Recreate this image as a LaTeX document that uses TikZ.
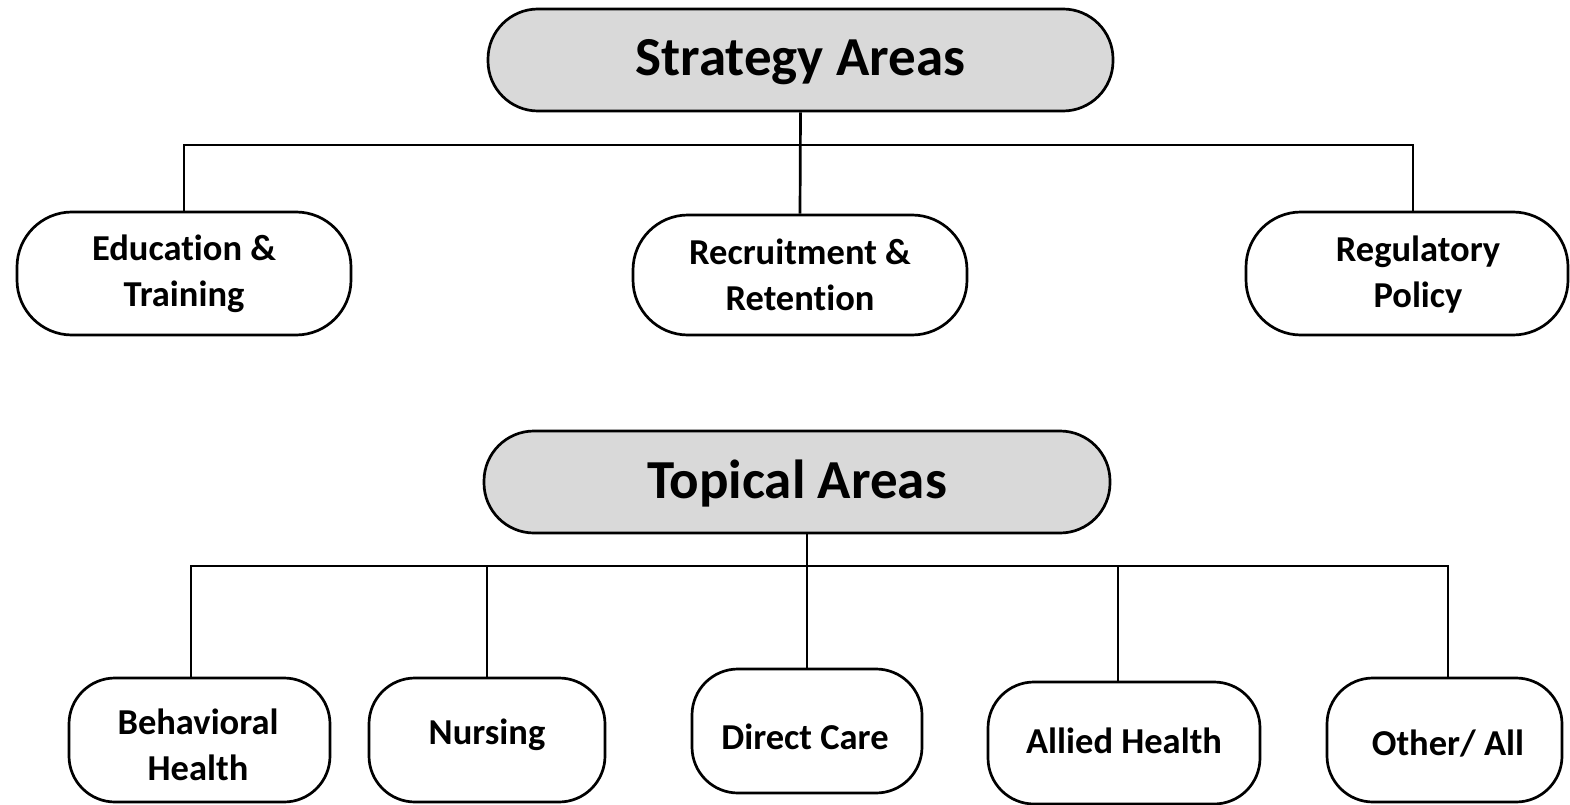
\documentclass[tikz,border=0pt]{standalone}
\usepackage{fontspec}
\setmainfont{Carlito}[Ligatures=NoCommon]
\begin{document}
\begin{tikzpicture}[x=1pt,y=-1pt,
  box/.style={draw=black,line width=2.7pt,rounded corners=#1,inner sep=0pt},
  head/.style={box=50pt,fill=headgray},
  htxt/.style={font=\fontsize{55}{60}\selectfont\bfseries,inner sep=0pt},
  lbl/.style={font=\fontsize{36.5}{46}\selectfont\bfseries,align=center,inner sep=0pt},
  conn/.style={line width=2.7pt}]
\definecolor{headgray}{RGB}{217,217,217}
\useasboundingbox[fill=white] (0,0) rectangle (1570,805);
% Strategy
\node[head,minimum width=625pt,minimum height=102pt] (strat) at (800.5,60) {};
\node[htxt] (strattxt) at (800.5,62) {Strategy Areas};
\node[box=55pt,minimum width=334pt,minimum height=123pt] (edu) at (184,273.5) {};
\node[box=55pt,minimum width=334pt,minimum height=120pt] (rec) at (800,275) {};
\node[box=55pt,minimum width=322pt,minimum height=123pt] (reg) at (1407,273.5) {};
\node[lbl] (edutxt) at (184,274) {Education \&\\Training};
\node[lbl] (rectxt) at (800,275) {Recruitment \&\\Retention};
\node[lbl] (regtxt) at (1418,275) {Regulatory\\Policy};
\coordinate (sj) at (801,145);
\coordinate (regtop) at ([xshift=6pt]reg.north);
\draw[conn] (strat.south) -- (rec.north);
\draw[conn] (edu.north) |- (sj) -| (regtop);
% Topical
\node[head,minimum width=626pt,minimum height=102pt] (top) at (797,482) {};
\node[htxt] (toptxt) at (797,484) {Topical Areas};
\node[box=46pt,minimum width=261pt,minimum height=124pt] (beh) at (199.5,740) {};
\node[box=46pt,minimum width=236pt,minimum height=124pt] (nur) at (487,740) {};
\node[box=46pt,minimum width=230pt,minimum height=124pt] (dir) at (807,731) {};
\node[box=46pt,minimum width=272pt,minimum height=122pt] (all) at (1124,743) {};
\node[box=46pt,minimum width=235pt,minimum height=124pt] (oth) at (1444.5,740) {};
\node[lbl] (behtxt) at (198,745) {Behavioral\\Health};
\node[lbl] (nurtxt) at (487,735) {Nursing};
\node[lbl] (dirtxt) at (805,737) {Direct Care};
\node[lbl] (alltxt) at (1124,741) {Allied Health};
\node[lbl] (othtxt) at (1448,744) {Other/ All};
\coordinate (tj) at (807,566);
\coordinate (behtop) at ([xshift=-8.5pt]beh.north);
\coordinate (alltop) at ([xshift=-6pt]all.north);
\coordinate (othtop) at ([xshift=3.5pt]oth.north);
\draw[conn] (dir.north |- top.south) -- (dir.north);
\draw[conn] (behtop) |- (tj) -| (othtop);
\draw[conn] (nur.north |- tj) -- (nur.north);
\draw[conn] (alltop |- tj) -- (alltop);
\end{tikzpicture}
\end{document}
